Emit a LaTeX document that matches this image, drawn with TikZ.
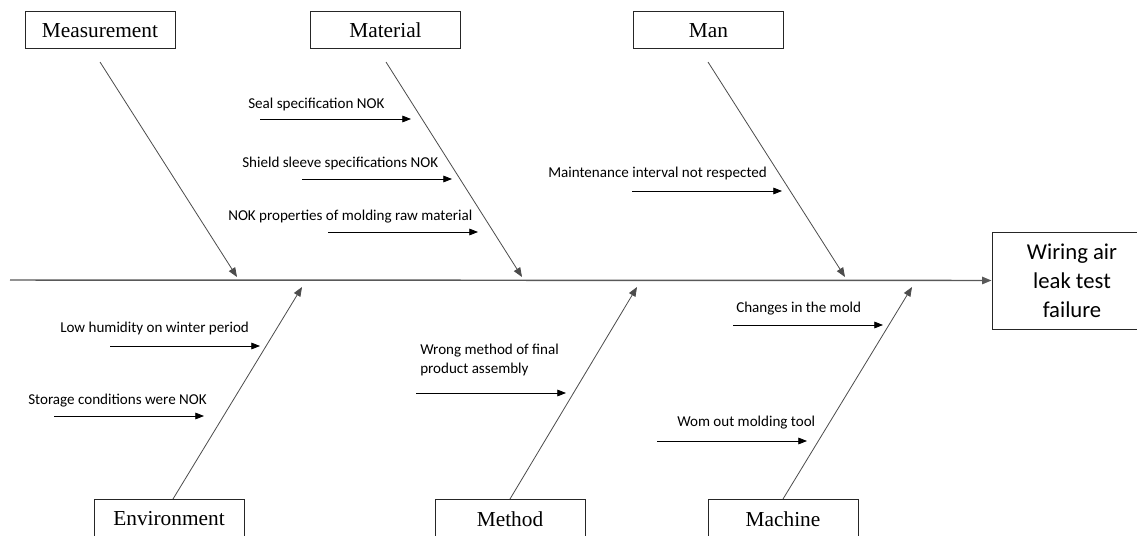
\documentclass[tikz,border=0pt]{standalone}
\usepackage{fontspec}
\setmainfont{Liberation Serif}
\newfontfamily\calibri{Carlito}
\usetikzlibrary{arrows.meta}
\begin{document}
\begin{tikzpicture}[x=0.75pt,y=-0.75pt,
  catbox/.style={draw=black!85, line width=0.75pt, minimum width=112.5pt,
    minimum height=27.75pt, inner sep=0pt, font=\fontsize{16}{19}\selectfont},
  lowbox/.style={draw=black!85, line width=0.75pt, minimum width=112.5pt,
    minimum height=45pt, inner sep=0pt, anchor=north},
  lowlabel/.style={inner sep=0pt, font=\fontsize{16}{19}\selectfont},
  effectbox/.style={draw=black!85, line width=0.75pt, minimum width=120pt,
    minimum height=72.75pt, inner sep=0pt, align=center,
    font=\fontsize{17}{21.75}\calibri},
  causetext/.style={inner sep=0pt, anchor=west, align=left,
    font=\fontsize{11.3}{14.25}\calibri},
  spine/.style={draw=black!65, line width=1.1pt, -{Triangle[length=7pt,width=5.5pt]}},
  bone/.style={draw=black!70, line width=0.6pt, -{Triangle[length=7pt,width=5.5pt]}},
  subarrow/.style={draw=black, line width=0.6pt, -{Triangle[length=6.5pt,width=5pt]}}
]
\path[use as bounding box, clip] (0,0) rectangle (1137,535);
\fill[white] (0,0) rectangle (1137,535);

% category boxes on top
\node[catbox] (meas) at (100,30.5) {Measurement};
\node[catbox] (mat)  at (385.5,30.5) {Material};
\node[catbox] (man)  at (708.5,30.5) {Man};

% category boxes at the bottom (running off the lower edge)
\node[lowbox] (env)  at (169,499) {};
\node[lowlabel] (envl) at (169,519) {Environment};
\node[lowbox] (meth) at (510,499) {};
\node[lowlabel] (methl) at (510,519) {Method};
\node[lowbox] (mach) at (783,499) {};
\node[lowlabel] (machl) at (783,519) {Machine};

% effect (its right side runs past the edge)
\node[effectbox] (eff) at (1072,280.5) {Wiring air\\leak test\\failure};

% spine
\coordinate (tail) at (10,280);
\draw[spine] (tail) -- (eff.west);

% bone end points on the spine
\coordinate (measS) at (100,62);   \coordinate (measT) at (237,277);
\coordinate (matS)  at (386,62);   \coordinate (matT)  at (522,277);
\coordinate (manS)  at (708,62);   \coordinate (manT)  at (845,277);
\coordinate (envS)  at (173,499);  \coordinate (envT)  at (302,287);
\coordinate (methS) at (510,499);  \coordinate (methT) at (637,287);
\coordinate (machS) at (783,499);  \coordinate (machT) at (912,287);

\draw[bone] (measS) -- (measT);
\draw[bone] (matS) -- (matT);
\draw[bone] (manS) -- (manT);
\draw[bone] (envS) -- (envT);
\draw[bone] (methS) -- (methT);
\draw[bone] (machS) -- (machT);

% causes: Material
\node[causetext] (c1) at (248,104) {Seal specification NOK};
\coordinate (a1) at (260,119); \coordinate (b1) at (411,119);
\draw[subarrow] (a1) -- (b1);
\node[causetext] (c2) at (242,163) {Shield sleeve specifications NOK};
\coordinate (a2) at (302,179); \coordinate (b2) at (452,179);
\draw[subarrow] (a2) -- (b2);
\node[causetext] (c3) at (228,217) {NOK properties of molding raw material};
\coordinate (a3) at (328,232); \coordinate (b3) at (478,232);
\draw[subarrow] (a3) -- (b3);

% causes: Man
\node[causetext] (c4) at (548,173) {Maintenance interval not respected};
\coordinate (a4) at (632,191); \coordinate (b4) at (782,191);
\draw[subarrow] (a4) -- (b4);

% causes: Environment
\node[causetext] (c5) at (60,328) {Low humidity on winter period};
\coordinate (a5) at (110,346); \coordinate (b5) at (260,346);
\draw[subarrow] (a5) -- (b5);
\node[causetext] (c6) at (28,401) {Storage conditions were NOK};
\coordinate (a6) at (54,416); \coordinate (b6) at (204,416);
\draw[subarrow] (a6) -- (b6);

% causes: Method
\node[causetext] (c7) at (420,359.5) {Wrong method of final\\product assembly};
\coordinate (a7) at (416,393); \coordinate (b7) at (566,393);
\draw[subarrow] (a7) -- (b7);

% causes: Machine
\node[causetext] (c8) at (736,309) {Changes in the mold};
\coordinate (a8) at (733,325); \coordinate (b8) at (883,325);
\draw[subarrow] (a8) -- (b8);
\node[causetext] (c9) at (677,423) {Wom out molding tool};
\coordinate (a9) at (657,441); \coordinate (b9) at (807,441);
\draw[subarrow] (a9) -- (b9);
\end{tikzpicture}
\end{document}
